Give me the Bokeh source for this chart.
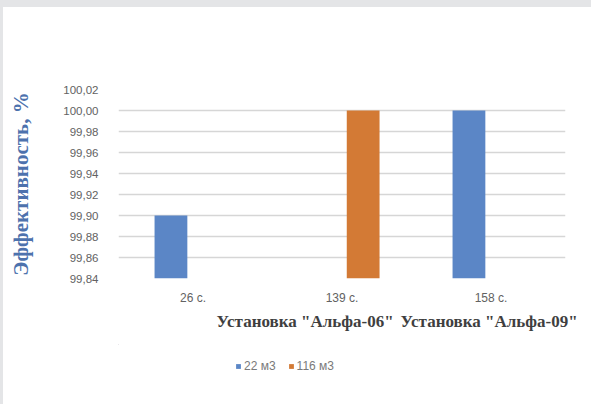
from bokeh.plotting import figure
from bokeh.models import (Range1d, FixedTicker, ColumnDataSource,
                          LinearAxis, Spacer, Legend, LegendItem)
from bokeh.transform import dodge
from bokeh.layouts import column, row
from bokeh.embed import file_html
from bokeh.resources import INLINE

# Chart data
categories = ["26 с.", "139 с.", "158 с."]
series_names = ["22 м3", "116 м3"]
eff_22 = [99.90, None, 100.00]
eff_116 = [None, 100.00, None]
group_labels = ['Установка "Альфа-06"', 'Установка "Альфа-09"']
group_under = ["139 с.", "158 с."]
y_ticks = [99.84, 99.86, 99.88, 99.90, 99.92, 99.94, 99.96, 99.98, 100.00, 100.02]
y_tick_labels = ["99,84", "99,86", "99,88", "99,90", "99,92", "99,94",
                 "99,96", "99,98", "100,00", "100,02"]
y_title = "Эффективность, %"

BLUE = "#5b86c6"
ORANGE = "#d37a35"
GRID = "#d6d6d6"
TICK_TEXT = "#626262"
FRAME_BG = "#e4e5e7"
COLORS = [BLUE, ORANGE]
OFFSETS = [-0.148, 0.142]
BAR_W = 0.22

# each category occupies one unit on the x scale, centred at i + 0.5
cat_pos = [i + 0.5 for i in range(len(categories))]


def series_source(values):
    pos = [x for x, v in zip(cat_pos, values) if v is not None]
    vals = [v for v in values if v is not None]
    return ColumnDataSource(dict(pos=pos, val=vals))


sources = [series_source(eff_22), series_source(eff_116)]

fig = figure(
    x_range=Range1d(0, len(categories)),
    y_range=Range1d(y_ticks[0], y_ticks[-1]),
    width=588, height=337,
    min_border_left=115, min_border_right=26,
    min_border_top=82, min_border_bottom=66,
    output_backend="svg", toolbar_location=None,
)
fig.outline_line_color = None
fig.background_fill_color = "#ffffff"
fig.border_fill_color = "#ffffff"

for src, off, col in zip(sources, OFFSETS, COLORS):
    fig.vbar(x=dodge("pos", off), top="val", bottom=y_ticks[0],
             width=BAR_W, source=src, fill_color=col, line_color=None)

# Grid
fig.xgrid.grid_line_color = None
fig.ygrid.grid_line_color = GRID
fig.ygrid.grid_line_width = 1.3

# Y axis
yax = fig.yaxis[0]
yax.ticker = FixedTicker(ticks=y_ticks)
yax.major_label_overrides = {t: lab for t, lab in zip(y_ticks, y_tick_labels)}
yax.axis_line_color = None
yax.major_tick_line_color = None
yax.minor_tick_line_color = None
yax.major_label_standoff = 14
yax.major_label_text_font = "Liberation Sans"
yax.major_label_text_font_size = "11.5px"
yax.major_label_text_color = TICK_TEXT
yax.axis_label = y_title
yax.axis_label_text_font = "Liberation Serif"
yax.axis_label_text_font_style = "bold"
yax.axis_label_text_font_size = "21px"
yax.axis_label_text_color = "#4d72ad"
yax.axis_label_standoff = 27

# X axis (time labels)
xax = fig.xaxis[0]
xax.ticker = FixedTicker(ticks=cat_pos)
xax.major_label_overrides = {t: lab for t, lab in zip(cat_pos, categories)}
xax.axis_line_color = None
xax.major_tick_line_color = None
xax.minor_tick_line_color = None
xax.major_label_standoff = 6
xax.major_label_text_font = "Liberation Sans"
xax.major_label_text_font_size = "12px"
xax.major_label_text_color = TICK_TEXT

# Second row of x labels: unit names
group_pos = [cat_pos[categories.index(c)] + dx / 149.0 for c, dx in zip(group_under, [-37, -2])]
gax = LinearAxis(ticker=FixedTicker(ticks=group_pos))
gax.major_label_overrides = {t: lab for t, lab in zip(group_pos, group_labels)}
gax.axis_line_color = None
gax.major_tick_line_color = None
gax.minor_tick_line_color = None
gax.major_label_standoff = -2
gax.major_label_text_font = "Liberation Serif"
gax.major_label_text_font_style = "bold"
gax.major_label_text_font_size = "17px"
gax.major_label_text_color = "#3f3f3f"
fig.add_layout(gax, "below")

# Legend strip under the chart: the same series, placed wholly outside this
# strip's visible ranges, so that only the legend swatches show
n = len(categories)
leg_fig = figure(
    x_range=Range1d(2 * n, 3 * n), y_range=Range1d(0, 1),
    width=588, height=60, min_border=0,
    x_axis_location=None, y_axis_location=None,
    output_backend="svg", toolbar_location=None,
)
leg_fig.outline_line_color = None
leg_fig.grid.visible = False
swatches = [leg_fig.vbar(x=dodge("pos", off), top="val", bottom=y_ticks[0], width=BAR_W,
                         source=src, fill_color=col, line_color=None)
            for src, off, col in zip(sources, OFFSETS, COLORS)]
legend = Legend(
    items=[LegendItem(label=name, renderers=[r]) for name, r in zip(series_names, swatches)],
    location=(117, 31), orientation="horizontal",
    glyph_width=6, glyph_height=6, label_standoff=3, spacing=12,
    padding=0, margin=0, label_height=12,
    label_text_font="Liberation Sans", label_text_font_size="12px",
    label_text_color="#7a7a7a",
    border_line_color=None, background_fill_alpha=0,
)
leg_fig.add_layout(legend, "center")

top_strip = Spacer(width=591, height=7, styles={"background-color": FRAME_BG})
left_strip = Spacer(width=3, height=397, styles={"background-color": FRAME_BG})
p = column(top_strip, row(left_strip, column(fig, leg_fig, spacing=0), spacing=0), spacing=0)

open("out.html", "w").write(file_html(p, INLINE))
